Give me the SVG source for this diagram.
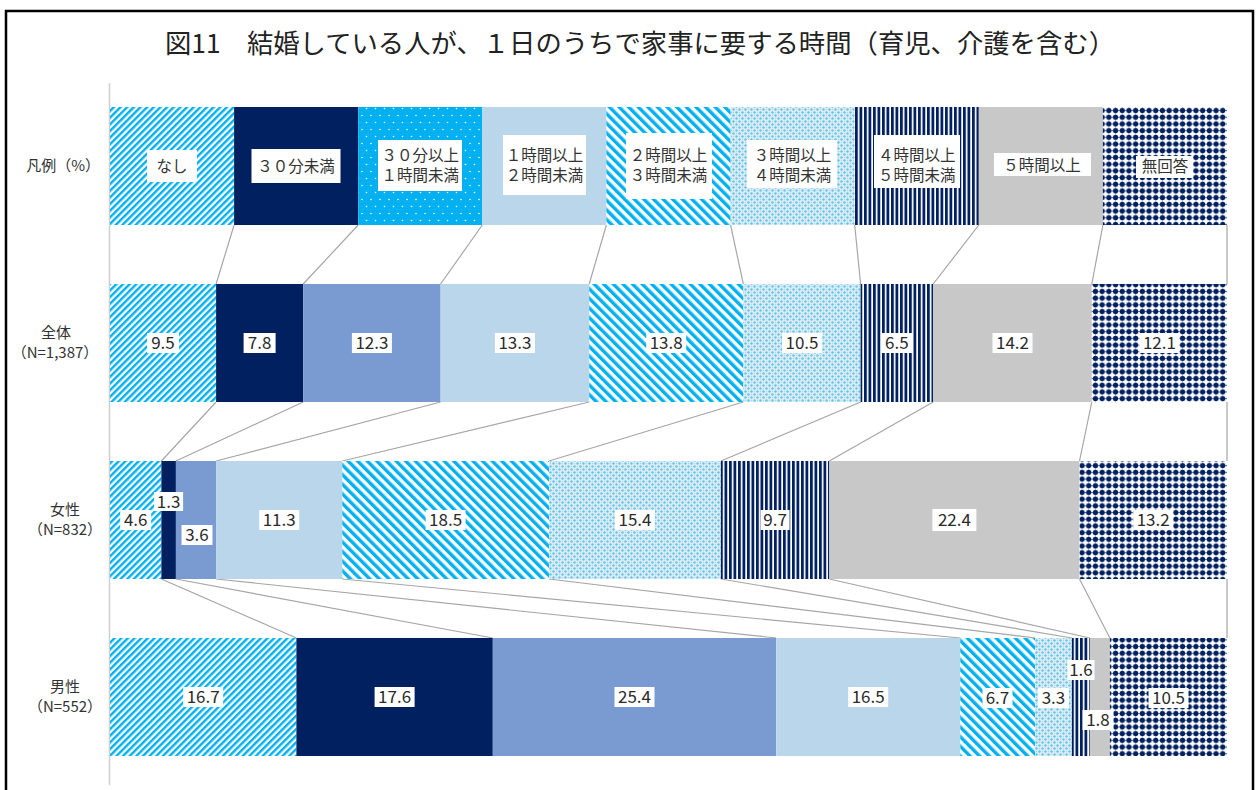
<svg xmlns="http://www.w3.org/2000/svg" width="1258" height="790" viewBox="0 0 1258 790">
<style>
.t{font-family:"Noto Sans CJK JP","Noto Sans",sans-serif;fill:#333}
.title{font-size:26px;fill:#222}
.row{font-size:15px}
.lg{font-size:15.5px}
.v{font-size:17px;fill:#2a2a2a}
.box{fill:#fff}
.con{stroke:#a6a6a6;stroke-width:1.2;fill:none}
</style>
<defs>
<pattern id="pNone" width="4.7" height="4.7" patternUnits="userSpaceOnUse" patternTransform="rotate(45)">
<rect width="4.7" height="4.7" fill="#fff"/><rect width="2.4" height="4.7" fill="#00b0f0"/>
</pattern>
<pattern id="p23" width="6.8" height="6.8" patternUnits="userSpaceOnUse" patternTransform="rotate(-45)">
<rect width="6.8" height="6.8" fill="#fff"/><rect width="3.4" height="6.8" fill="#00b0f0"/>
</pattern>
<pattern id="pDot" width="9" height="14" patternUnits="userSpaceOnUse">
<rect width="9" height="14" fill="#00b0f0"/><circle cx="2" cy="3.5" r="0.8" fill="#fff"/><circle cx="6.5" cy="10.5" r="0.8" fill="#fff"/>
</pattern>
<pattern id="p34" width="6" height="6" patternUnits="userSpaceOnUse">
<rect width="6" height="6" fill="#e4ecf1"/><circle cx="1.5" cy="1.5" r="1.2" fill="#5cc8f0"/><circle cx="4.5" cy="4.5" r="1.2" fill="#5cc8f0"/><circle cx="4.5" cy="1.5" r="0.7" fill="#9bd9f3"/><circle cx="1.5" cy="4.5" r="0.7" fill="#9bd9f3"/>
</pattern>
<pattern id="pV" width="4.5" height="10" patternUnits="userSpaceOnUse">
<rect width="4.5" height="10" fill="#fff"/><rect width="2.8" height="10" fill="#002060"/>
</pattern>
<pattern id="pNA" width="6.7" height="6.7" patternUnits="userSpaceOnUse">
<rect width="6.7" height="6.7" fill="#fff"/><rect x="0" y="2.9" width="6.7" height="0.9" fill="#5a6a9a"/><rect x="2.9" y="0.6" width="0.9" height="5.5" fill="#5a6a9a"/><circle cx="3.35" cy="3.35" r="2.6" fill="#002060"/>
</pattern>
</defs>

<path d="M6,795 V11 H1253 V795" fill="none" stroke="#000" stroke-width="2.5"/>
<line x1="109.5" y1="83" x2="109.5" y2="785" stroke="#cfcfcf" stroke-width="1.5"/>

<text class="t title" x="640" y="53" text-anchor="middle" textLength="950" lengthAdjust="spacingAndGlyphs">図11　結婚している人が、１日のうちで家事に要する時間（育児、介護を含む）</text>

<g id="labels">
<text class="t row" x="100" y="171" text-anchor="end">凡例（%）</text>
<text class="t row" x="56" y="338" text-anchor="middle">全体</text>
<text class="t row" x="55" y="358" text-anchor="middle">（N=1,387）</text>
<text class="t row" x="65" y="515" text-anchor="middle">女性</text>
<text class="t row" x="65" y="535" text-anchor="middle">（N=832）</text>
<text class="t row" x="65" y="692" text-anchor="middle">男性</text>
<text class="t row" x="65" y="712" text-anchor="middle">（N=552）</text>
</g>

<g id="connectors" class="con">
<path d="M234.1,225 L216.1,284 M358.2,225 L303.2,284 M482.3,225 L440.6,284 M606.4,225 L589.2,284 M730.6,225 L743.3,284 M854.7,225 L860.6,284 M978.8,225 L933.2,284 M1102.9,225 L1091.8,284 M1227,225 L1227,284"/>
<path d="M216.1,402 L161.4,461 M303.2,402 L175.9,461 M440.6,402 L216.1,461 M589.2,402 L342.3,461 M743.3,402 L549,461 M860.6,402 L720.9,461 M933.2,402 L829.3,461 M1091.8,402 L1079.5,461 M1227,402 L1227,461"/>
<path d="M161.4,579 L296.4,638 M175.9,579 L492.8,638 M216.1,579 L776.2,638 M342.3,579 L960.3,638 M549,579 L1035.1,638 M720.9,579 L1071.9,638 M829.3,579 L1089.8,638 M1079.5,579 L1109.9,638 M1227,579 L1227,638"/>
</g>

<g id="legend">
<rect x="110" y="107" width="124.1" height="118" fill="url(#pNone)"/>
<rect x="234.1" y="107" width="124.1" height="118" fill="#002060"/>
<rect x="358.2" y="107" width="124.1" height="118" fill="url(#pDot)"/>
<rect x="482.3" y="107" width="124.1" height="118" fill="#bad6eb"/>
<rect x="606.4" y="107" width="124.2" height="118" fill="url(#p23)"/>
<rect x="730.6" y="107" width="124.1" height="118" fill="url(#p34)"/>
<rect x="854.7" y="107" width="124.1" height="118" fill="url(#pV)"/>
<rect x="978.8" y="107" width="124.1" height="118" fill="#c8c8c8"/>
<rect x="1102.9" y="107" width="124.1" height="118" fill="url(#pNA)"/>
<rect class="box" x="147" y="150" width="50" height="32"/>
<rect class="box" x="251.5" y="149" width="89" height="34"/>
<rect class="box" x="378" y="140" width="84" height="51"/>
<rect class="box" x="503" y="135" width="83" height="60"/>
<rect class="box" x="626" y="133" width="86" height="66"/>
<rect class="box" x="747" y="140" width="90" height="48"/>
<rect class="box" x="874" y="135" width="86" height="53"/>
<rect class="box" x="994" y="153" width="97" height="23"/>
<rect class="box" x="1136" y="156" width="57" height="22"/>
<text class="t lg" x="172" y="172" text-anchor="middle">なし</text>
<text class="t lg" x="296" y="172" text-anchor="middle">３０分未満</text>
<text class="t lg" x="420.3" y="161" text-anchor="middle">３０分以上</text>
<text class="t lg" x="420.3" y="181" text-anchor="middle">１時間未満</text>
<text class="t lg" x="544.4" y="161" text-anchor="middle">１時間以上</text>
<text class="t lg" x="544.4" y="181" text-anchor="middle">２時間未満</text>
<text class="t lg" x="668.5" y="161" text-anchor="middle">２時間以上</text>
<text class="t lg" x="668.5" y="181" text-anchor="middle">３時間未満</text>
<text class="t lg" x="792.6" y="161" text-anchor="middle">３時間以上</text>
<text class="t lg" x="792.6" y="181" text-anchor="middle">４時間未満</text>
<text class="t lg" x="916.7" y="161" text-anchor="middle">４時間以上</text>
<text class="t lg" x="916.7" y="181" text-anchor="middle">５時間未満</text>
<text class="t lg" x="1042" y="171" text-anchor="middle">５時間以上</text>
<text class="t lg" x="1164.9" y="172" text-anchor="middle">無回答</text>
</g>

<g id="row-total">
<rect x="110" y="284" width="106.1" height="118" fill="url(#pNone)"/>
<rect x="216.1" y="284" width="87.1" height="118" fill="#002060"/>
<rect x="303.2" y="284" width="137.4" height="118" fill="#7a9bd2"/>
<rect x="440.6" y="284" width="148.6" height="118" fill="#bad6eb"/>
<rect x="589.2" y="284" width="154.1" height="118" fill="url(#p23)"/>
<rect x="743.3" y="284" width="117.3" height="118" fill="url(#p34)"/>
<rect x="860.6" y="284" width="72.6" height="118" fill="url(#pV)"/>
<rect x="933.2" y="284" width="158.6" height="118" fill="#c8c8c8"/>
<rect x="1091.8" y="284" width="135.2" height="118" fill="url(#pNA)"/>
<rect class="box" x="147" y="333" width="32" height="20"/><text class="t v" x="163" y="349" text-anchor="middle">9.5</text>
<rect class="box" x="243.6" y="333" width="32" height="20"/><text class="t v" x="259.6" y="349" text-anchor="middle">7.8</text>
<rect class="box" x="351.9" y="333" width="40" height="20"/><text class="t v" x="371.9" y="349" text-anchor="middle">12.3</text>
<rect class="box" x="494.9" y="333" width="40" height="20"/><text class="t v" x="514.9" y="349" text-anchor="middle">13.3</text>
<rect class="box" x="646.2" y="333" width="40" height="20"/><text class="t v" x="666.2" y="349" text-anchor="middle">13.8</text>
<rect class="box" x="782" y="333" width="40" height="20"/><text class="t v" x="802" y="349" text-anchor="middle">10.5</text>
<rect class="box" x="880.9" y="333" width="32" height="20"/><text class="t v" x="896.9" y="349" text-anchor="middle">6.5</text>
<rect class="box" x="992.5" y="333" width="40" height="20"/><text class="t v" x="1012.5" y="349" text-anchor="middle">14.2</text>
<rect class="box" x="1139.4" y="333" width="40" height="20"/><text class="t v" x="1159.4" y="349" text-anchor="middle">12.1</text>
</g>

<g id="row-female">
<rect x="110" y="461" width="51.4" height="118" fill="url(#pNone)"/>
<rect x="161.4" y="461" width="14.5" height="118" fill="#002060"/>
<rect x="175.9" y="461" width="40.2" height="118" fill="#7a9bd2"/>
<rect x="216.1" y="461" width="126.2" height="118" fill="#bad6eb"/>
<rect x="342.3" y="461" width="206.7" height="118" fill="url(#p23)"/>
<rect x="549" y="461" width="171.9" height="118" fill="url(#p34)"/>
<rect x="720.9" y="461" width="108.4" height="118" fill="url(#pV)"/>
<rect x="829.3" y="461" width="250.2" height="118" fill="#c8c8c8"/>
<rect x="1079.5" y="461" width="147.5" height="118" fill="url(#pNA)"/>
<rect class="box" x="120.2" y="510" width="31" height="20"/><text class="t v" x="135.7" y="526" text-anchor="middle">4.6</text>
<rect class="box" x="154.1" y="492" width="29" height="19"/><text class="t v" x="168.6" y="508" text-anchor="middle">1.3</text>
<rect class="box" x="181.5" y="525" width="31" height="20"/><text class="t v" x="197" y="541" text-anchor="middle">3.6</text>
<rect class="box" x="259.2" y="510" width="40" height="20"/><text class="t v" x="279.2" y="526" text-anchor="middle">11.3</text>
<rect class="box" x="425.6" y="510" width="40" height="20"/><text class="t v" x="445.6" y="526" text-anchor="middle">18.5</text>
<rect class="box" x="615" y="510" width="40" height="20"/><text class="t v" x="635" y="526" text-anchor="middle">15.4</text>
<rect class="box" x="760.6" y="510" width="29" height="20"/><text class="t v" x="775.1" y="526" text-anchor="middle">9.7</text>
<rect class="box" x="932.4" y="509" width="44" height="22"/><text class="t v" x="954.4" y="526" text-anchor="middle">22.4</text>
<rect class="box" x="1133.2" y="510" width="40" height="20"/><text class="t v" x="1153.2" y="526" text-anchor="middle">13.2</text>
</g>

<g id="row-male">
<rect x="110" y="638" width="186.4" height="118" fill="url(#pNone)"/>
<rect x="296.4" y="638" width="196.4" height="118" fill="#002060"/>
<rect x="492.8" y="638" width="283.4" height="118" fill="#7a9bd2"/>
<rect x="776.2" y="638" width="184.1" height="118" fill="#bad6eb"/>
<rect x="960.3" y="638" width="74.8" height="118" fill="url(#p23)"/>
<rect x="1035.1" y="638" width="36.8" height="118" fill="url(#p34)"/>
<rect x="1071.9" y="638" width="17.9" height="118" fill="url(#pV)"/>
<rect x="1089.8" y="638" width="20.1" height="118" fill="#c8c8c8"/>
<rect x="1109.9" y="638" width="117.1" height="118" fill="url(#pNA)"/>
<rect class="box" x="183.2" y="687" width="40" height="20"/><text class="t v" x="203.2" y="703" text-anchor="middle">16.7</text>
<rect class="box" x="374.6" y="687" width="40" height="20"/><text class="t v" x="394.6" y="703" text-anchor="middle">17.6</text>
<rect class="box" x="614.5" y="687" width="40" height="20"/><text class="t v" x="634.5" y="703" text-anchor="middle">25.4</text>
<rect class="box" x="848.2" y="687" width="40" height="20"/><text class="t v" x="868.2" y="703" text-anchor="middle">16.5</text>
<rect class="box" x="982.5" y="688" width="30" height="20"/><text class="t v" x="997.5" y="704" text-anchor="middle">6.7</text>
<rect class="box" x="1038" y="688" width="31" height="20"/><text class="t v" x="1053.5" y="704" text-anchor="middle">3.3</text>
<rect class="box" x="1067.5" y="660" width="27" height="20"/><text class="t v" x="1081" y="676" text-anchor="middle">1.6</text>
<rect class="box" x="1082.5" y="710" width="31" height="20"/><text class="t v" x="1098" y="726" text-anchor="middle">1.8</text>
<rect class="box" x="1148.5" y="688" width="40" height="20"/><text class="t v" x="1168.5" y="704" text-anchor="middle">10.5</text>
</g>
</svg>
